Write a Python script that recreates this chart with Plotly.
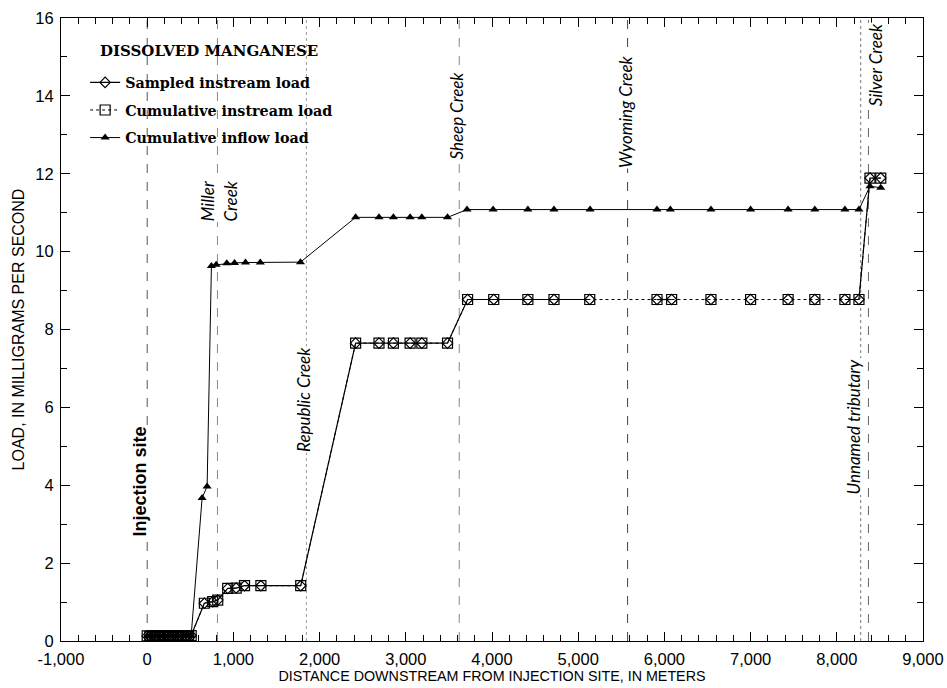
import plotly.graph_objects as go

# Distance downstream from the injection site (m) and manganese loads (mg/s)
inflow_dist = [0, 30, 60, 90, 120, 150, 180, 210, 240, 270, 300, 330, 360, 390,
               420, 450, 480, 510, 637, 695, 745, 800, 923, 1013, 1140, 1312,
               1778, 2418, 2689, 2856, 3050, 3186, 3484, 3710, 4013, 4416, 4719,
               5138, 5914, 6069, 6540, 7000, 7435, 7745, 8094, 8257, 8385, 8510]
inflow_load = [0.13, 0.12, 0.13, 0.12, 0.13, 0.13, 0.12, 0.13, 0.13, 0.12, 0.13,
               0.13, 0.12, 0.13, 0.13, 0.12, 0.13, 0.14, 3.67, 3.97, 9.63, 9.66,
               9.70, 9.71, 9.72, 9.72, 9.73, 10.88, 10.88, 10.88, 10.88, 10.88,
               10.88, 11.08, 11.08, 11.08, 11.08, 11.08, 11.08, 11.08, 11.08,
               11.08, 11.08, 11.08, 11.08, 11.08, 11.68, 11.64]

instream_dist = [0, 30, 60, 90, 120, 150, 180, 210, 240, 270, 300, 330, 360, 390,
                 420, 450, 480, 510, 663, 760, 818, 934, 1032, 1129, 1319, 1781,
                 2418, 2689, 2856, 3050, 3186, 3484, 3717, 4020, 4416, 4719, 5134,
                 5914, 6084, 6540, 7000, 7435, 7745, 8094, 8257, 8385, 8510]
instream_load = [0.13, 0.12, 0.13, 0.12, 0.13, 0.13, 0.12, 0.13, 0.13, 0.12, 0.13,
                 0.13, 0.12, 0.13, 0.13, 0.12, 0.13, 0.14, 0.97, 1.01, 1.05, 1.35,
                 1.36, 1.42, 1.42, 1.42, 7.65, 7.65, 7.65, 7.65, 7.65, 7.65, 8.77,
                 8.77, 8.77, 8.77, 8.77, 8.77, 8.77, 8.77, 8.77, 8.77, 8.77, 8.77,
                 8.77, 11.89, 11.89]

# Sampled instream load: same sites; None marks reaches without a connecting sample line
sampled_dist = [0, 30, 60, 90, 120, 150, 180, 210, 240, 270, 300, 330, 360, 390,
                420, 450, 480, 510, 663, 760, 818, 934, 1032, 1129, 1319, 1781,
                2418, 2689, 2856, 3050, 3186, 3484, 3717, 4020, 4416, 4719, 5134,
                None, 5914, 6084, None, 6540, None, 7000, None, 7435, None, 7745,
                None, 8094, 8257, 8385, 8510]
sampled_load = [0.13, 0.12, 0.13, 0.12, 0.13, 0.13, 0.12, 0.13, 0.13, 0.12, 0.13,
                0.13, 0.12, 0.13, 0.13, 0.12, 0.13, 0.14, 0.97, 1.01, 1.05, 1.35,
                1.36, 1.42, 1.42, 1.42, 7.65, 7.65, 7.65, 7.65, 7.65, 7.65, 8.77,
                8.77, 8.77, 8.77, 8.77, None, 8.77, 8.77, None, 8.77, None, 8.77,
                None, 8.77, None, 8.77, None, 8.77, 8.77, 11.89, 11.89]

# Tributaries / landmarks along the stream
site_names = ["Injection site", "Miller<br>Creek", "Republic Creek", "Sheep Creek",
              "Wyoming Creek", "Unnamed tributary", "Silver Creek"]
site_dist = [0, 815, 1847, 3620, 5573, 8277, 8367]

x_tickvals = [-1000, 0, 1000, 2000, 3000, 4000, 5000, 6000, 7000, 8000, 9000]
x_ticktext = ["-1,000", "0", "1,000", "2,000", "3,000", "4,000", "5,000",
              "6,000", "7,000", "8,000", "9,000"]
y_tickvals = [0, 2, 4, 6, 8, 10, 12, 14, 16]

# label placement (load value of label centre, horizontal pixel shift) and line style
label_y = [4.1, 11.3, 6.2, 13.5, 13.6, 5.5, 14.8]
label_shift = [-7, 1, -3, -3, -2, -7, 7]
line_dash = ["dash", "dash", "dot", "dash", "dash", "dot", "dash"]
line_color = ["#555", "#888", "#999", "#888", "#444", "#777", "#666"]

fig = go.Figure()

for xv, dash, col in zip(site_dist, line_dash, line_color):
    fig.add_shape(type="line", xref="x", yref="paper", x0=xv, x1=xv, y0=0, y1=1,
                  line=dict(color=col, width=1, dash=dash), layer="below")

serif = "DejaVu Serif, Liberation Serif, serif"
sans = "Liberation Sans, Arial, sans-serif"

fig.add_trace(go.Scatter(
    x=sampled_dist, y=sampled_load, mode="lines+markers",
    name="Sampled instream load", legendgroup="a",
    line=dict(color="black", width=1.2),
    marker=dict(symbol="diamond-open", size=8, color="black", line=dict(width=1.2)),
    connectgaps=False))
fig.add_trace(go.Scatter(
    x=instream_dist, y=instream_load, mode="lines+markers",
    name="Cumulative instream load", legendgroup="b",
    line=dict(color="black", width=1, dash="dot"),
    marker=dict(symbol="square-open", size=10, color="black", line=dict(width=1.2))))
fig.add_trace(go.Scatter(
    x=inflow_dist, y=inflow_load, mode="lines+markers",
    name="Cumulative inflow load", legendgroup="c",
    line=dict(color="black", width=1),
    marker=dict(symbol="triangle-up", size=8, color="black")))

for i, (name, xv, yv, sh) in enumerate(zip(site_names, site_dist, label_y, label_shift)):
    bold = i == 0
    fig.add_annotation(
        x=xv, y=yv, xref="x", yref="y", text=name, showarrow=False,
        textangle=-90, xshift=sh, bgcolor="white", borderpad=0,
        font=dict(family=sans if bold else "Lato, Liberation Sans, sans-serif",
                  size=18 if bold else 17, color="black",
                  weight="bold" if bold else "normal",
                  style="normal" if bold else "italic"))

fig.add_annotation(
    x=0.043, y=0.947, xref="paper", yref="paper", xanchor="left", yanchor="middle",
    text="<b>DISSOLVED MANGANESE</b>", showarrow=False,
    font=dict(family=serif, size=15, color="black"))

axis_common = dict(
    showline=True, linecolor="black", linewidth=1.2, mirror="allticks",
    ticks="inside", ticklen=9, tickwidth=1, tickcolor="black",
    showgrid=False, zeroline=False, automargin=False, ticklabelstandoff=3,
    tickfont=dict(family=sans, size=16.5, color="black"),
)

fig.update_xaxes(
    range=[-1000, 9000], tickvals=x_tickvals, ticktext=x_ticktext,
    minor=dict(ticks="inside", dtick=200, ticklen=6, tickcolor="black", showgrid=False),
    title=dict(text="DISTANCE DOWNSTREAM FROM INJECTION SITE, IN METERS",
               font=dict(family=sans, size=14.3, color="black"), standoff=2),
    **axis_common)
fig.update_yaxes(
    range=[0, 16], tickvals=y_tickvals,
    minor=dict(ticks="inside", dtick=1, ticklen=6, tickcolor="black", showgrid=False),
    title=dict(text="LOAD, IN MILLIGRAMS PER SECOND",
               font=dict(family=sans, size=16, color="black"), standoff=6),
    **axis_common)

fig.update_layout(
    width=947, height=688,
    margin=dict(l=61, r=24, t=18, b=47),
    paper_bgcolor="white", plot_bgcolor="white",
    showlegend=True,
    legend=dict(x=0.028, y=0.922, xanchor="left", yanchor="top",
                bgcolor="rgba(0,0,0,0)", itemwidth=30, tracegroupgap=6,
                font=dict(family=serif, size=14.3, color="black", weight="bold")),
)

fig.write_html("out.html")
